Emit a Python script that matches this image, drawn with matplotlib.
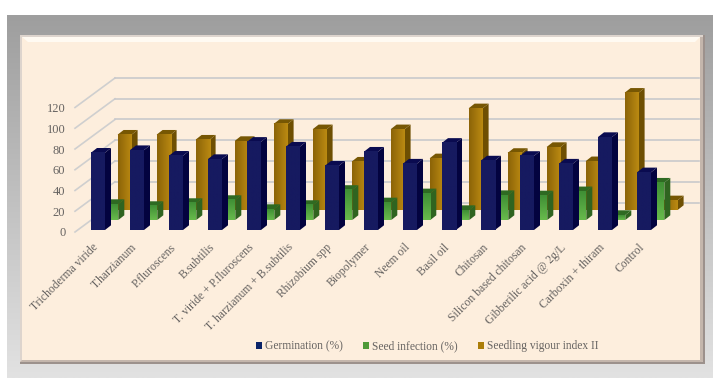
import numpy as np
import matplotlib
matplotlib.use("Agg")
import matplotlib.pyplot as plt
from matplotlib.colors import LinearSegmentedColormap
from matplotlib.patches import Patch, Rectangle, Polygon
from matplotlib.transforms import ScaledTranslation

plt.rcParams['font.family'] = ['Liberation Serif', 'DejaVu Serif']

# ===============================
# Data
# ===============================
tratamientos = ["Trichoderma viride", "T.harzianum", "P.fluroscens", "B.subtilis",
                "T. viride + P.fluroscens", "T. harzianum + B.subtilis", "Rhizobium spp",
                "Biopolymer", "Neem oil", "Basil oil", "Chitosan",
                "Silicon based chitosan", "Gibberilic acid @ 2g/L",
                "Carboxin + thiram", "Control"]
germinacion = [74.5, 77, 71.6, 68.4, 85, 80.4, 62, 75.5, 64, 84, 67, 71.4, 64, 89.6, 55.6]
infeccion = [15.4, 13.5, 16.4, 19.3, 10.6, 14.5, 29, 17, 25.7, 9.6, 24, 23.7, 27.7, 4.8, 36]
vigor = [72.6, 72.6, 67.8, 66.5, 82.9, 77.8, 46.6, 77.8, 49.8, 98, 55, 60.7, 47, 113, 9.3]
yticks = [0, 20, 40, 60, 80, 100, 120]

W, H = 713, 378
PASO = 39.0            # px between categories
ESCALA = 124.5 / 120   # px per y unit
X0, Y0 = 98.0, 232.0   # px of the first category and of the front zero line
ANCHO = 14.0           # bar width px
LADO_X, LADO_Y = 6.0, 4.7
FONDO_X, FONDO_Y = 40.0, 29.5
TEXTO = "#666361"

fig = plt.figure(figsize=(W / 100, H / 100), dpi=100, facecolor="white")

# ===============================
# Panel background
# ===============================
bg = fig.add_axes([0, 0, 1, 1], zorder=0)
bg.set_xlim(0, W)
bg.set_ylim(H, 0)
bg.axis("off")
grad = LinearSegmentedColormap.from_list("g", ["#9e9e9e", "#e2e2e2"])
bg.imshow(np.linspace(0, 1, 256)[:, None], extent=(7, W, H, 15), cmap=grad, aspect="auto")
bg.add_patch(Rectangle((20, 35), 685, 329, fc="#9c918c", ec="none"))
bg.add_patch(Rectangle((20, 35), 683, 327, fc="#ddd4cd", ec="none"))
bg.add_patch(Rectangle((22, 37), 678, 323, fc="#fdeedd", ec="none"))
bg.add_patch(Polygon([(22, 37), (700, 37), (695, 42), (28, 42)], fc="#fffaf2", ec="none"))
bg.add_patch(Polygon([(700, 37), (703, 37), (703, 362), (700, 360)], fc="#c4b6ac", ec="none"))
bg.add_patch(Polygon([(22, 360), (700, 360), (703, 362), (20, 362)], fc="#c4b6ac", ec="none"))
bg.set_xlim(0, W)
bg.set_ylim(H, 0)

# ===============================
# Chart axes
# ===============================
izq, der = 75, 660
ax = fig.add_axes([izq / W, 1 - Y0 / H, (der - izq) / W, 124.5 / H], zorder=1)
ax.patch.set_alpha(0)
xlim = ((izq - X0) / PASO, (der - X0) / PASO)

sx = 1 / PASO
sy = 1 / ESCALA

# Back wall grid
for v in yticks:
    ax.plot([xlim[0], xlim[0] + FONDO_X * sx], [v, v + FONDO_Y * sy],
            color="#cfcfcf", lw=1.2, clip_on=False, zorder=1)
    ax.plot([xlim[0] + FONDO_X * sx, xlim[0] + 624 * sx], [v + FONDO_Y * sy] * 2,
            color="#c9c9cc", lw=1.2, clip_on=False, zorder=1)


def barra_3d(i, valor, dx, base, cara, lateral, tapa, z, vertical=False):
    # Front face with gradient, side and top as polygons
    x0 = i - ANCHO / 2 * sx + dx * sx
    x1 = x0 + ANCHO * sx
    y0 = base * sy
    y1 = y0 + valor
    ddx, ddy = LADO_X * sx, LADO_Y * sy
    ax.add_patch(Polygon([(x1, y0), (x1 + ddx, y0 + ddy), (x1 + ddx, y1 + ddy), (x1, y1)],
                         fc=lateral, ec="none", clip_on=False, zorder=z))
    ax.add_patch(Polygon([(x0, y1), (x1, y1), (x1 + ddx, y1 + ddy), (x0 + ddx, y1 + ddy)],
                         fc=tapa, ec="none", clip_on=False, zorder=z))
    cm_cara = LinearSegmentedColormap.from_list("c", cara)
    g = np.linspace(0, 1, 32)
    g = g[:, None] if vertical else g[None, :]
    ax.imshow(g, extent=(x0, x1, y0, y1), origin="upper", cmap=cm_cara, aspect="auto",
              clip_on=False, zorder=z)


for i in range(len(tratamientos)):
    barra_3d(i, vigor[i], 26.6, 22, ["#8c6408", "#bb8a12"], "#6e4f02", "#775703", 3)
    barra_3d(i, infeccion[i], 13.3, 12, ["#3f8f35", "#68ba4c"], "#2f6420", "#2e6a22", 4, vertical=True)
    barra_3d(i, germinacion[i], 0, 2, ["#161a60", "#161a60"], "#03033f", "#0a0b50", 5)

ax.set_xlim(*xlim)
ax.set_ylim(0, 120)
for s in ax.spines.values():
    s.set_visible(False)

ax.set_yticks(yticks)
ax.tick_params(axis="y", length=0, pad=7, labelsize=9, labelcolor=TEXTO)
ax.set_xticks(range(len(tratamientos)))
ax.set_xticklabels(tratamientos, rotation=45, ha="right", va="top", rotation_mode="anchor")
ax.tick_params(axis="x", length=0, pad=9, labelsize=8.4, labelcolor=TEXTO)
desplazar = ScaledTranslation(-6 / 100, 3 / 100, fig.dpi_scale_trans)
for et in ax.get_xticklabels():
    et.set_transform(et.get_transform() + desplazar)

# Legend
manejadores = [Patch(fc="#0b2468", label="Germination (%)"),
               Patch(fc="#4f9a38", label="Seed infection (%)"),
               Patch(fc="#ab7d08", label="Seedling vigour index II")]
ley = fig.legend(handles=manejadores, ncol=3, frameon=False, fontsize=8.3,
                 loc="center left", bbox_to_anchor=(256 / W, 1 - 346.5 / H),
                 handlelength=0.52, handleheight=0.52, handletextpad=0.28,
                 columnspacing=1.73, borderpad=0, borderaxespad=0, labelcolor=TEXTO)
ley.set_zorder(2)

fig.savefig("out.png", dpi=100)
